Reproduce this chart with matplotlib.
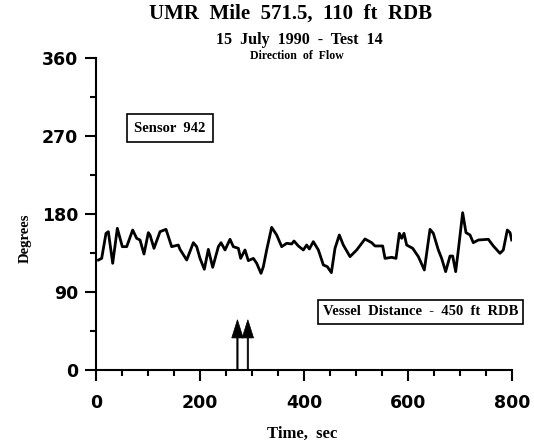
import matplotlib
matplotlib.use("Agg")
import matplotlib.pyplot as plt
from matplotlib.ticker import MultipleLocator

# Direction trace (time in sec, direction in degrees)
time_sec = [4.5, 10.9, 19.2, 23.7, 32.1, 41.0, 50.6, 59.0, 70.5, 78.2,
            84.6, 92.3, 100.6, 103.8, 111.5, 123.1, 134.6, 145.5, 158.3, 161.5,
            174.4, 187.2, 193.6, 200.0, 208.3, 216.0, 224.4, 235.3, 240.4, 248.1,
            257.7, 264.1, 273.7, 278.2, 286.5, 292.9, 302.6, 309.0, 317.3, 321.8,
            328.2, 337.8, 347.4, 357.1, 366.7, 376.3, 380.8, 389.1, 398.7, 405.1,
            410.3, 417.9, 427.6, 437.2, 444.9, 452.6, 459.6, 467.9, 475.6, 488.5,
            501.3, 517.3, 530.1, 536.5, 551.3, 555.8, 568.6, 576.9, 583.3, 587.8,
            592.3, 597.4, 609.0, 619.9, 631.4, 642.3, 648.7, 658.3, 664.7, 672.4,
            680.8, 685.9, 691.7, 696.8, 705.1, 711.5, 719.2, 725.6, 735.3, 754.5,
            764.1, 776.9, 783.3, 791.0, 796.2, 799.4]
degrees = [126.9, 128.8, 157.7, 159.6, 123.1, 163.5, 142.3, 142.3, 161.5, 151.9,
           150.0, 133.8, 158.5, 155.8, 140.4, 159.6, 162.3, 142.3, 144.2, 139.2,
           126.9, 146.9, 142.3, 128.8, 116.2, 139.2, 118.5, 142.3, 146.9, 138.5,
           150.8, 142.3, 140.4, 128.8, 138.5, 126.2, 128.8, 123.1, 111.5, 119.2,
           138.5, 164.6, 155.8, 142.3, 146.2, 145.4, 148.8, 143.1, 138.5, 144.2,
           139.6, 148.1, 138.5, 121.2, 119.2, 112.3, 140.4, 155.8, 144.2, 130.8,
           138.5, 151.2, 146.9, 143.1, 143.1, 128.8, 130.0, 128.8, 157.7, 151.9,
           157.7, 144.2, 140.4, 130.8, 115.4, 162.3, 157.7, 138.5, 128.8, 113.5,
           131.5, 131.5, 113.5, 138.5, 181.5, 158.5, 155.8, 146.9, 150.0, 150.8,
           143.1, 134.6, 138.5, 161.5, 158.5, 150.0]

# vessel passage markers
arrow_times = [272, 292]
arrow_top = 58

serif = "Liberation Serif"

fig = plt.figure(figsize=(5.34, 4.46), dpi=100)
ax = fig.add_axes([0.1798, 0.1704, 0.779, 0.6996])

ax.plot(time_sec, degrees, color="black", lw=2.0)

for t in arrow_times:
    ax.arrow(t, 0, 0, arrow_top, width=2.5, head_width=22, head_length=21,
             length_includes_head=True, fc="black", ec="black", lw=0.5)

ax.set_xlim(0, 800)
ax.set_ylim(0, 360)
ax.xaxis.set_major_locator(MultipleLocator(200))
ax.xaxis.set_minor_locator(MultipleLocator(50))
ax.yaxis.set_major_locator(MultipleLocator(90))
ax.yaxis.set_minor_locator(MultipleLocator(45))
ax.tick_params(which="major", direction="out", length=8, width=1.5)
ax.tick_params(which="minor", direction="out", length=4, width=1.5)
ax.tick_params(axis="x", pad=9)
ax.tick_params(axis="y", pad=5)
for lab in ax.get_xticklabels() + ax.get_yticklabels():
    lab.set_fontfamily("DejaVu Sans")
    lab.set_fontweight("bold")
    lab.set_fontsize(12.5)

for s in ["top", "right"]:
    ax.spines[s].set_visible(False)
for s in ["left", "bottom"]:
    ax.spines[s].set_linewidth(1.5)

ax.text(142, 279, "Sensor  942", family=serif, weight="bold", fontsize=10.5,
        ha="center", va="center",
        bbox=dict(boxstyle="square,pad=0.5", fc="white", ec="black", lw=1.2))
ax.text(624, 67, "Vessel  Distance  -  450  ft  RDB", family=serif, weight="bold",
        fontsize=10.5, ha="center", va="center", clip_on=False,
        bbox=dict(boxstyle="square,pad=0.35", fc="white", ec="black", lw=1.2))

fig.text(291 / 534, 1 - 14 / 446, "UMR  Mile  571.5,  110  ft  RDB", family=serif,
         weight="bold", fontsize=15, ha="center", va="center")
fig.text(299 / 534, 1 - 40 / 446, "15  July  1990  -  Test  14", family=serif,
         weight="bold", fontsize=11.5, ha="center", va="center")
fig.text(297 / 534, 1 - 56 / 446, "Direction  of  Flow", family=serif,
         weight="bold", fontsize=8.5, ha="center", va="center")

fig.text(302 / 534, 1 - 434 / 446, "Time,  sec", family=serif, weight="bold",
         fontsize=12, ha="center", va="center")
fig.text(25 / 534, 1 - 238 / 446, "Degrees", family=serif, weight="bold",
         fontsize=10.5, ha="center", va="center", rotation=90)

fig.savefig("out.png", dpi=100)
